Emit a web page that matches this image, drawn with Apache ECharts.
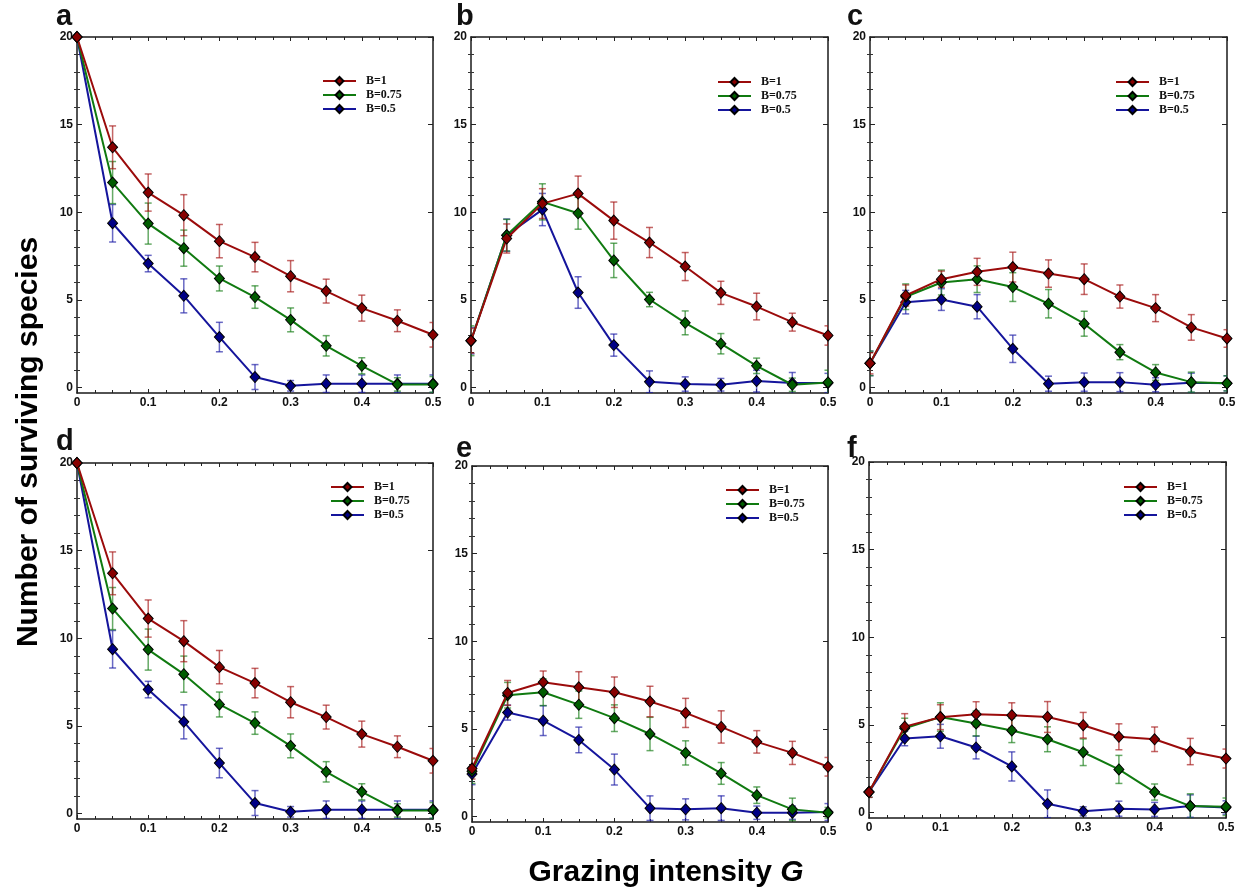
<!DOCTYPE html>
<html><head><meta charset="utf-8">
<script src="https://cdn.jsdelivr.net/npm/echarts@6/dist/echarts.min.js"></script>
<style>html,body{margin:0;padding:0;background:#fff}#c{width:1242px;height:895px}</style>
</head><body><div id="c"></div>
<script>
// ---------- data ----------
const xValues = [0, 0.05, 0.1, 0.15, 0.2, 0.25, 0.3, 0.35, 0.4, 0.45, 0.5];
const seriesNames = ['B=1', 'B=0.75', 'B=0.5'];
const yTickValues = [0, 5, 10, 15, 20];
const yMinorValues = [1,2,3,4,6,7,8,9,11,12,13,14,16,17,18,19];
const panelLetters = ['a', 'b', 'c', 'd', 'e', 'f'];
const yTitle = 'Number of surviving species';
const xTitleText = 'Grazing intensity ';
const xTitleSymbol = 'G';

// panel a
const aB1 = [20, 13.71, 11.13, 9.84, 8.36, 7.45, 6.36, 5.51, 4.54, 3.82, 3.02];
const aB1Err = [0, 1.22, 1.06, 1.17, 0.95, 0.84, 0.89, 0.68, 0.74, 0.62, 0.7];
const aB075 = [20, 11.7, 9.36, 7.96, 6.23, 5.17, 3.87, 2.39, 1.25, 0.19, 0.19];
const aB075Err = [0, 1.2, 1.17, 1.03, 0.71, 0.64, 0.68, 0.58, 0.46, 0.38, 0.45];
const aB05 = [20, 9.38, 7.08, 5.24, 2.89, 0.61, 0.11, 0.23, 0.23, 0.23, 0.23];
const aB05Err = [0, 1.07, 0.47, 0.97, 0.84, 0.71, 0.3, 0.5, 0.5, 0.5, 0.5];
// panel b
const bB1 = [2.68, 8.51, 10.5, 11.07, 9.53, 8.28, 6.91, 5.41, 4.63, 3.74, 2.98];
const bB1Err = [0.7, 0.83, 0.85, 1.0, 1.06, 0.86, 0.8, 0.66, 0.76, 0.51, 0.55];
const bB075 = [2.68, 8.7, 10.6, 9.95, 7.26, 5.03, 3.7, 2.51, 1.25, 0.17, 0.3];
const bB075Err = [0.85, 0.9, 1.03, 0.91, 0.98, 0.41, 0.68, 0.58, 0.44, 0.38, 0.7];
const bB05 = [2.68, 8.7, 10.16, 5.43, 2.43, 0.34, 0.21, 0.17, 0.38, 0.27, 0.27];
const bB05Err = [0.75, 0.92, 0.92, 0.9, 0.63, 0.62, 0.41, 0.36, 0.62, 0.6, 0.55];
// panel c
const cB1 = [1.39, 5.26, 6.19, 6.61, 6.88, 6.51, 6.19, 5.2, 4.54, 3.44, 2.81];
const cB1Err = [0.6, 0.6, 0.46, 0.77, 0.85, 0.78, 0.87, 0.66, 0.77, 0.73, 0.5];
const cB075 = [1.39, 5.19, 6.0, 6.19, 5.74, 4.79, 3.65, 2.03, 0.87, 0.32, 0.25];
const cB075Err = [0.7, 0.73, 0.71, 0.76, 0.82, 0.81, 0.71, 0.43, 0.45, 0.57, 0.43];
const cB05 = [1.39, 4.88, 5.03, 4.62, 2.22, 0.23, 0.32, 0.32, 0.17, 0.28, 0.25];
const cB05Err = [0.7, 0.67, 0.62, 0.69, 0.78, 0.43, 0.52, 0.54, 0.4, 0.55, 0.43];
// panel d
const dB1 = [20, 13.71, 11.13, 9.84, 8.36, 7.45, 6.36, 5.51, 4.54, 3.82, 3.02];
const dB1Err = [0, 1.22, 1.06, 1.17, 0.95, 0.84, 0.89, 0.68, 0.74, 0.62, 0.7];
const dB075 = [20, 11.7, 9.36, 7.96, 6.23, 5.17, 3.87, 2.39, 1.25, 0.19, 0.19];
const dB075Err = [0, 1.2, 1.17, 1.03, 0.71, 0.64, 0.68, 0.58, 0.46, 0.38, 0.45];
const dB05 = [20, 9.38, 7.08, 5.24, 2.89, 0.61, 0.11, 0.23, 0.23, 0.23, 0.23];
const dB05Err = [0, 1.07, 0.47, 0.97, 0.84, 0.71, 0.3, 0.5, 0.5, 0.5, 0.5];
// panel e
const eB1 = [2.75, 7.06, 7.67, 7.38, 7.1, 6.57, 5.92, 5.12, 4.27, 3.64, 2.85];
const eB1Err = [0.6, 0.71, 0.64, 0.89, 0.87, 0.87, 0.83, 0.92, 0.64, 0.66, 0.53];
const eB075 = [2.6, 6.93, 7.1, 6.39, 5.62, 4.72, 3.64, 2.47, 1.23, 0.42, 0.23];
const eB075Err = [0.7, 0.73, 0.76, 0.78, 0.76, 0.95, 0.69, 0.62, 0.47, 0.64, 0.3];
const eB05 = [2.43, 5.94, 5.48, 4.38, 2.69, 0.49, 0.42, 0.49, 0.23, 0.23, 0.27];
const eB05Err = [0.6, 0.43, 0.85, 0.73, 0.88, 0.7, 0.6, 0.7, 0.38, 0.38, 0.48];
// panel f
const fB1 = [1.18, 4.91, 5.45, 5.62, 5.56, 5.46, 4.99, 4.33, 4.19, 3.49, 3.09];
const fB1Err = [0.3, 0.74, 0.71, 0.71, 0.71, 0.88, 0.73, 0.74, 0.7, 0.75, 0.54];
const fB075 = [1.18, 4.82, 5.46, 5.09, 4.69, 4.19, 3.45, 2.47, 1.18, 0.38, 0.34];
const fB075Err = [0.3, 0.57, 0.81, 0.71, 0.69, 0.71, 0.76, 0.8, 0.46, 0.7, 0.5];
const fB05 = [1.18, 4.23, 4.36, 3.72, 2.64, 0.51, 0.08, 0.23, 0.19, 0.38, 0.3];
const fB05Err = [0.3, 0.41, 0.68, 0.65, 0.83, 0.79, 0.26, 0.43, 0.4, 0.64, 0.38];

// ---------- layout / style ----------
const lineColors = ['#9b0b0b', '#107a10', '#15159c'];
const markerColors = ['#870000', '#005c00', '#000085'];
const errColors = ['rgba(165,20,20,0.65)', 'rgba(20,125,20,0.65)', 'rgba(25,25,165,0.65)'];

const panels = [
  {vals: [aB1, aB075, aB05], errs: [aB1Err, aB075Err, aB05Err], grid: {left: 77, top: 37, width: 356, height: 356}, leg: {left: 322, top: 75}, letter: {x: 56, top: 2}},
  {vals: [bB1, bB075, bB05], errs: [bB1Err, bB075Err, bB05Err], grid: {left: 471, top: 37, width: 357, height: 356}, leg: {left: 717, top: 76}, letter: {x: 456, top: 2}},
  {vals: [cB1, cB075, cB05], errs: [cB1Err, cB075Err, cB05Err], grid: {left: 870, top: 37, width: 357, height: 356}, leg: {left: 1115, top: 76}, letter: {x: 847, top: 2}},
  {vals: [dB1, dB075, dB05], errs: [dB1Err, dB075Err, dB05Err], grid: {left: 77, top: 463, width: 356, height: 356}, leg: {left: 330, top: 481}, letter: {x: 56, top: 427}},
  {vals: [eB1, eB075, eB05], errs: [eB1Err, eB075Err, eB05Err], grid: {left: 472, top: 466, width: 356, height: 356}, leg: {left: 725, top: 484}, letter: {x: 456, top: 434}},
  {vals: [fB1, fB075, fB05], errs: [fB1Err, fB075Err, fB05Err], grid: {left: 869, top: 462, width: 357, height: 356}, leg: {left: 1123, top: 481}, letter: {x: 847, top: 434}}
];

const axisLineStyle = {color: '#1a1a1a', width: 1.5};
const labelFont = {fontFamily: 'Liberation Sans', fontWeight: 'bold', fontSize: 12, color: '#111'};

const grids = [], xAxes = [], yAxes = [], series = [], legends = [], graphics = [];

panels.forEach((p, i) => {
  grids.push(Object.assign({containLabel: false}, p.grid));
  const xBase = {
    gridIndex: i, type: 'value', min: 0, max: 0.5, interval: 0.1,
    axisLine: {show: true, onZero: false, lineStyle: axisLineStyle},
    axisTick: {show: true, inside: true, length: 4, lineStyle: {color: '#222', width: 1}},
    minorTick: {show: true, splitNumber: 4, length: 3, lineStyle: {color: '#222', width: 1}},
    splitLine: {show: false}, minorSplitLine: {show: false}
  };
  xAxes.push(Object.assign({}, xBase, {position: 'bottom',
    axisLabel: Object.assign({show: true, margin: 4, formatter: v => (v === 0 ? '0' : v.toFixed(1))}, labelFont)}));
  xAxes.push(Object.assign({}, xBase, {position: 'top', axisLabel: {show: false}}));
  const yBase = {
    gridIndex: i, type: 'value', min: -0.3, max: 20,
    splitLine: {show: false}
  };
  yAxes.push(Object.assign({}, yBase, {position: 'left',
    axisLine: {show: true, onZero: false, lineStyle: axisLineStyle},
    axisTick: {show: true, inside: true, length: 5, customValues: yTickValues, lineStyle: {color: '#222', width: 1}},
    axisLabel: Object.assign({show: true, margin: 4, customValues: yTickValues}, labelFont)}));
  yAxes.push(Object.assign({}, yBase, {position: 'right',
    axisLine: {show: true, onZero: false, lineStyle: axisLineStyle},
    axisTick: {show: true, inside: true, length: 5, customValues: yTickValues, lineStyle: {color: '#222', width: 1}},
    axisLabel: {show: false}}));
  yAxes.push(Object.assign({}, yBase, {position: 'left',
    axisLine: {show: false},
    axisTick: {show: true, inside: true, length: 3, customValues: yMinorValues, lineStyle: {color: '#333', width: 1}},
    axisLabel: {show: false}}));
  yAxes.push(Object.assign({}, yBase, {position: 'right',
    axisLine: {show: false},
    axisTick: {show: true, inside: true, length: 3, customValues: yMinorValues, lineStyle: {color: '#333', width: 1}},
    axisLabel: {show: false}}));

  // draw blue first, red on top
  [2, 1, 0].forEach(k => {
    const vals = p.vals[k], errs = p.errs[k];
    series.push({
      type: 'custom', name: 'err' + i + k, xAxisIndex: 2 * i, yAxisIndex: 4 * i,
      clip: true, silent: true, z: 2 + (2 - k) * 0.1,
      data: xValues.map((x, j) => [x, vals[j] - errs[j], vals[j] + errs[j]]),
      renderItem: (params, api) => {
        const lo = api.coord([api.value(0), api.value(1)]);
        const hi = api.coord([api.value(0), api.value(2)]);
        const w = 3.5;
        const st = {stroke: errColors[k], lineWidth: 1.5};
        return {type: 'group', children: [
          {type: 'line', shape: {x1: lo[0], y1: lo[1], x2: hi[0], y2: hi[1]}, style: st},
          {type: 'line', shape: {x1: lo[0] - w, y1: lo[1], x2: lo[0] + w, y2: lo[1]}, style: st},
          {type: 'line', shape: {x1: hi[0] - w, y1: hi[1], x2: hi[0] + w, y2: hi[1]}, style: st}
        ]};
      }
    });
    series.push({
      type: 'line', name: seriesNames[k], xAxisIndex: 2 * i, yAxisIndex: 4 * i,
      data: xValues.map((x, j) => [x, vals[j]]),
      symbol: 'diamond', symbolSize: [10, 11], showSymbol: true,
      z: 3 + (2 - k) * 0.1, animation: false, clip: false,
      lineStyle: {color: lineColors[k], width: 2},
      itemStyle: {color: markerColors[k], borderColor: '#000', borderWidth: 1}
    });
  });

  legends.push({
    data: seriesNames, orient: 'vertical', left: p.leg.left, top: p.leg.top,
    padding: 0, itemWidth: 33, itemHeight: 10, itemGap: 2, selectedMode: false,
    textStyle: {fontFamily: 'Liberation Serif', fontWeight: 'bold', fontSize: 12, color: '#111', padding: [0, 0, 0, 5]}
  });

  graphics.push({
    type: 'text', left: p.letter.x, top: p.letter.top,
    style: {text: panelLetters[i], font: 'bold 29px "Liberation Sans"', fill: '#111'}
  });
});

graphics.push({
  type: 'text', x: 29, y: 442, rotation: Math.PI / 2,
  style: {text: yTitle, font: 'bold 30px "Liberation Sans"', fill: '#000', align: 'center', verticalAlign: 'middle'}
});
graphics.push({
  type: 'text', x: 666, y: 873,
  style: {
    text: '{n|' + xTitleText + '}{i|' + xTitleSymbol + '}',
    align: 'center', verticalAlign: 'middle',
    rich: {
      n: {fontFamily: 'Liberation Sans', fontWeight: 'bold', fontSize: 30, fill: '#000', color: '#000'},
      i: {fontFamily: 'Liberation Sans', fontWeight: 'bold', fontStyle: 'italic', fontSize: 30, fill: '#000', color: '#000'}
    }
  }
});

const chart = echarts.init(document.getElementById('c'), null, {renderer: 'canvas'});
chart.setOption({
  animation: false,
  backgroundColor: '#fff',
  grid: grids, xAxis: xAxes, yAxis: yAxes, series: series, legend: legends, graphic: graphics
});
</script></body></html>
